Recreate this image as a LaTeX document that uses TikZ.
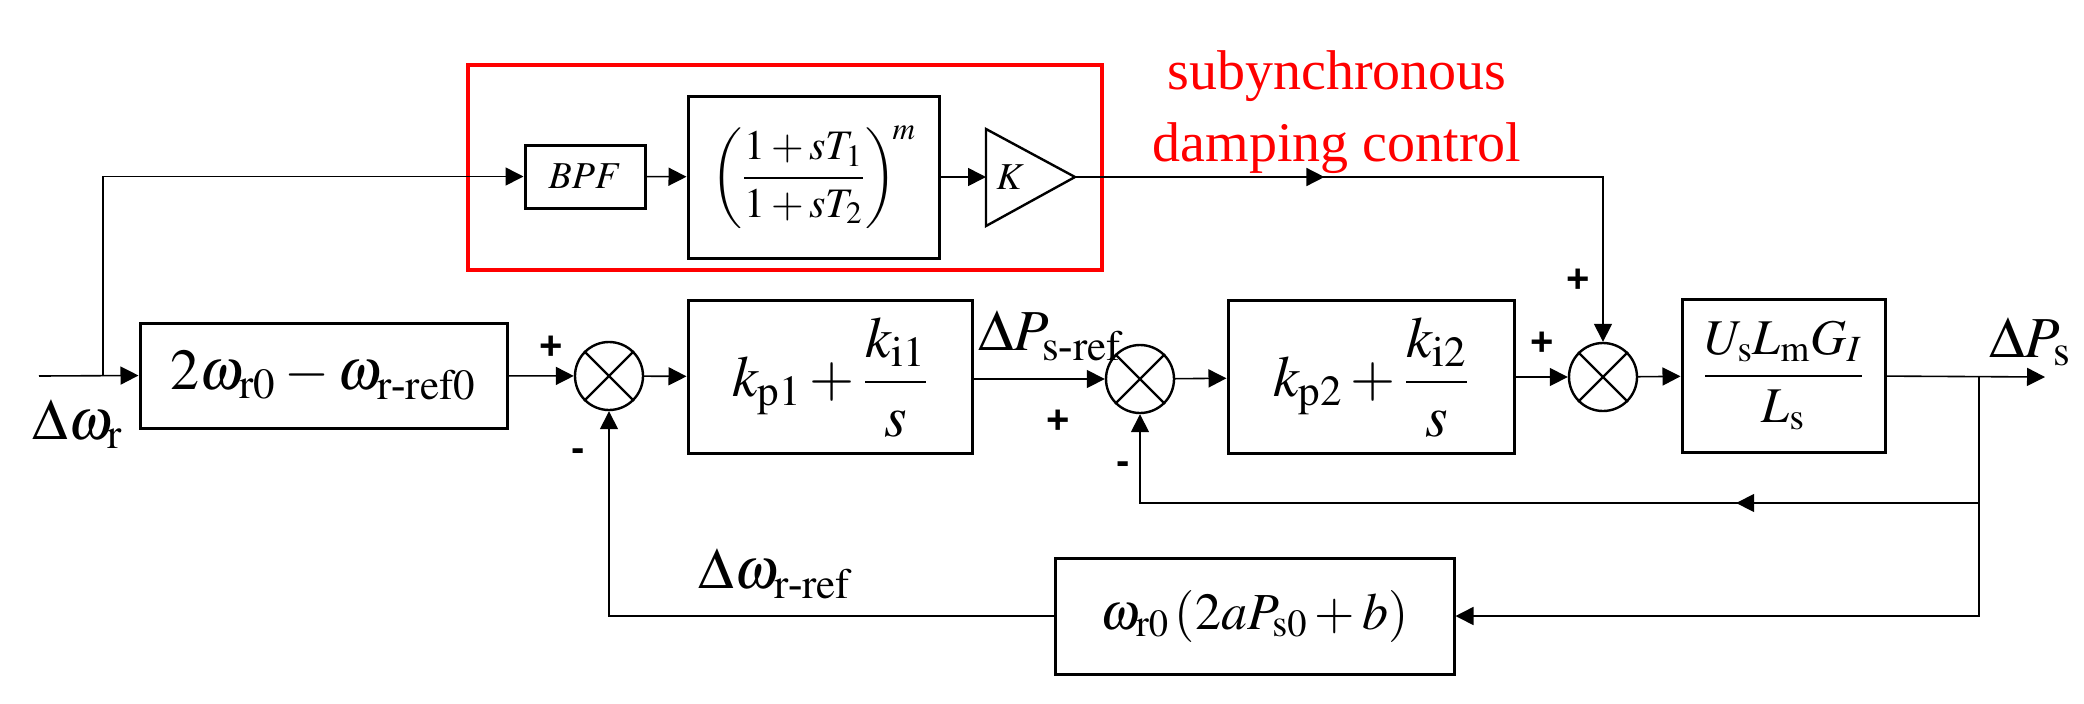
\documentclass[tikz,border=0pt]{standalone}
\usepackage{amsmath}
\usepackage{mathptmx}
\usepackage{fontspec}
\setmainfont{Liberation Serif}
\newfontfamily\signfont{Liberation Sans}
\usetikzlibrary{arrows.meta,decorations.markings,shapes.geometric}
\begin{document}
\begin{tikzpicture}[x=0.5pt,y=-0.5pt,
  blk/.style={draw,line width=1.5pt,inner sep=0pt,font=\fontsize{29}{34}\selectfont},
  sumn/.style={draw,circle,line width=1.2pt,minimum size=34pt,inner sep=0pt},
  ln/.style={line width=0.8pt},
  ar/.style={ln,-{Triangle[length=9pt,width=9pt]}},
  mid/.style={postaction={decorate},decoration={markings,mark=at position #1 with {\arrow{Triangle[length=9pt,width=9pt]}}}},
  sgn/.style={font=\signfont\bfseries\fontsize{20}{20}\selectfont},
  lab/.style={font=\fontsize{29}{34}\selectfont}]
\useasboundingbox (0,0) rectangle (2084,703);
% red box
\draw[red,line width=2pt] (468,65) rectangle (1102,270);
\node[red,align=center,font=\fontsize{28}{36}\selectfont] (rt) at (1337,112) {subynchronous\\damping control};
% blocks
\node[blk,minimum width=60pt,minimum height=31.5pt,font=\fontsize{19}{22}\selectfont] (bpf) at (585,176.5) {$BPF$};
\node[blk,minimum width=125.5pt,minimum height=81pt,font=\fontsize{21}{24}\selectfont] (lead) at (813.5,177) {$\left(\dfrac{1+sT_1}{1+sT_2}\right)^{\!m}$};
\coordinate (kl) at (986,177);
\coordinate (kt) at (1075,177);
\draw[line width=1.2pt] (986,129) -- (1075,177) -- (986,226) -- cycle;
\node[font=\fontsize{19}{22}\selectfont] (K) at (1010,177) {$K$};
\node[blk,minimum width=183.5pt,minimum height=52.5pt] (b1) at (323.5,375.5) {$2\omega_{\mathrm{r0}}-\omega_{\mathrm{r\text{-}ref0}}$};
\node[sumn] (s1) at (609,376) {};
\node[blk,minimum width=142pt,minimum height=76.5pt] (pi1) at (830,377) {$k_{\mathrm{p1}}+\dfrac{k_{\mathrm{i1}}}{s}$};
\node[sumn] (s2) at (1140,379) {};
\node[blk,minimum width=143pt,minimum height=76.5pt] (pi2) at (1371,377) {$k_{\mathrm{p2}}+\dfrac{k_{\mathrm{i2}}}{s}$};
\node[sumn] (s3) at (1603,377) {};
\node[blk,minimum width=101.5pt,minimum height=76.5pt,font=\fontsize{25}{30}\selectfont] (pl) at (1783.5,375.5) {$\dfrac{U_{\mathrm s}L_{\mathrm m}G_I}{L_{\mathrm s}}$};
\node[blk,minimum width=199.5pt,minimum height=58pt,font=\fontsize{26}{30}\selectfont] (fb) at (1254.5,616) {$\omega_{\mathrm{r0}}\left(2aP_{\mathrm{s0}}+b\right)$};
% crosses
\foreach \s in {s1,s2,s3}{
  \draw[line width=1.2pt] (\s.north west) -- (\s.south east);
  \draw[line width=1.2pt] (\s.north east) -- (\s.south west);}
% coordinates
\coordinate (in) at (39,376);
\coordinate (br) at (103,376);
\coordinate (out) at (2045,377);
\coordinate (ob) at (1979,377);
\coordinate (f1) at (1979,503);
% connectors
\draw[ar] (in) -- (b1.west);
\draw[ar] (br) |- (bpf.west);
\draw[ar] (bpf) -- (lead);
\draw[ar] (lead) -- (kl);
\draw[ar,mid=0.36] (kt) -| (s3.north);
\draw[ar] (b1) -- (s1);
\draw[ar] (s1) -- (pi1);
\draw[ar] (pi1.east |- s2) -- (s2);
\draw[ar] (s2) -- (pi2);
\draw[ar] (pi2) -- (s3);
\draw[ar] (s3) -- (pl);
\draw[ar] (pl) -- (out);
\draw[ar,mid=0.35] (ob) -- (f1) -| (s2.south);
\draw[ar] (f1) |- (fb.east);
\draw[ar] (fb.west) -| (s1.south);
% labels
\node[lab] (l1) at (78,424) {$\Delta\omega_{\mathrm r}$};
\node[lab] (l2) at (775,574) {$\Delta\omega_{\mathrm{r\text{-}ref}}$};
\node[lab] (l3) at (1050,336) {$\Delta P_{\mathrm{s\text{-}ref}}$};
\node[lab] (l4) at (2030,342) {$\Delta P_{\mathrm s}$};
\node[sgn] at (551,348) {+};
\node[sgn] at (578,455) {-};
\node[sgn] at (1058,422) {+};
\node[sgn] at (1123,468) {-};
\node[sgn] at (1542,344) {+};
\node[sgn] at (1578,281) {+};
\end{tikzpicture}
\end{document}
